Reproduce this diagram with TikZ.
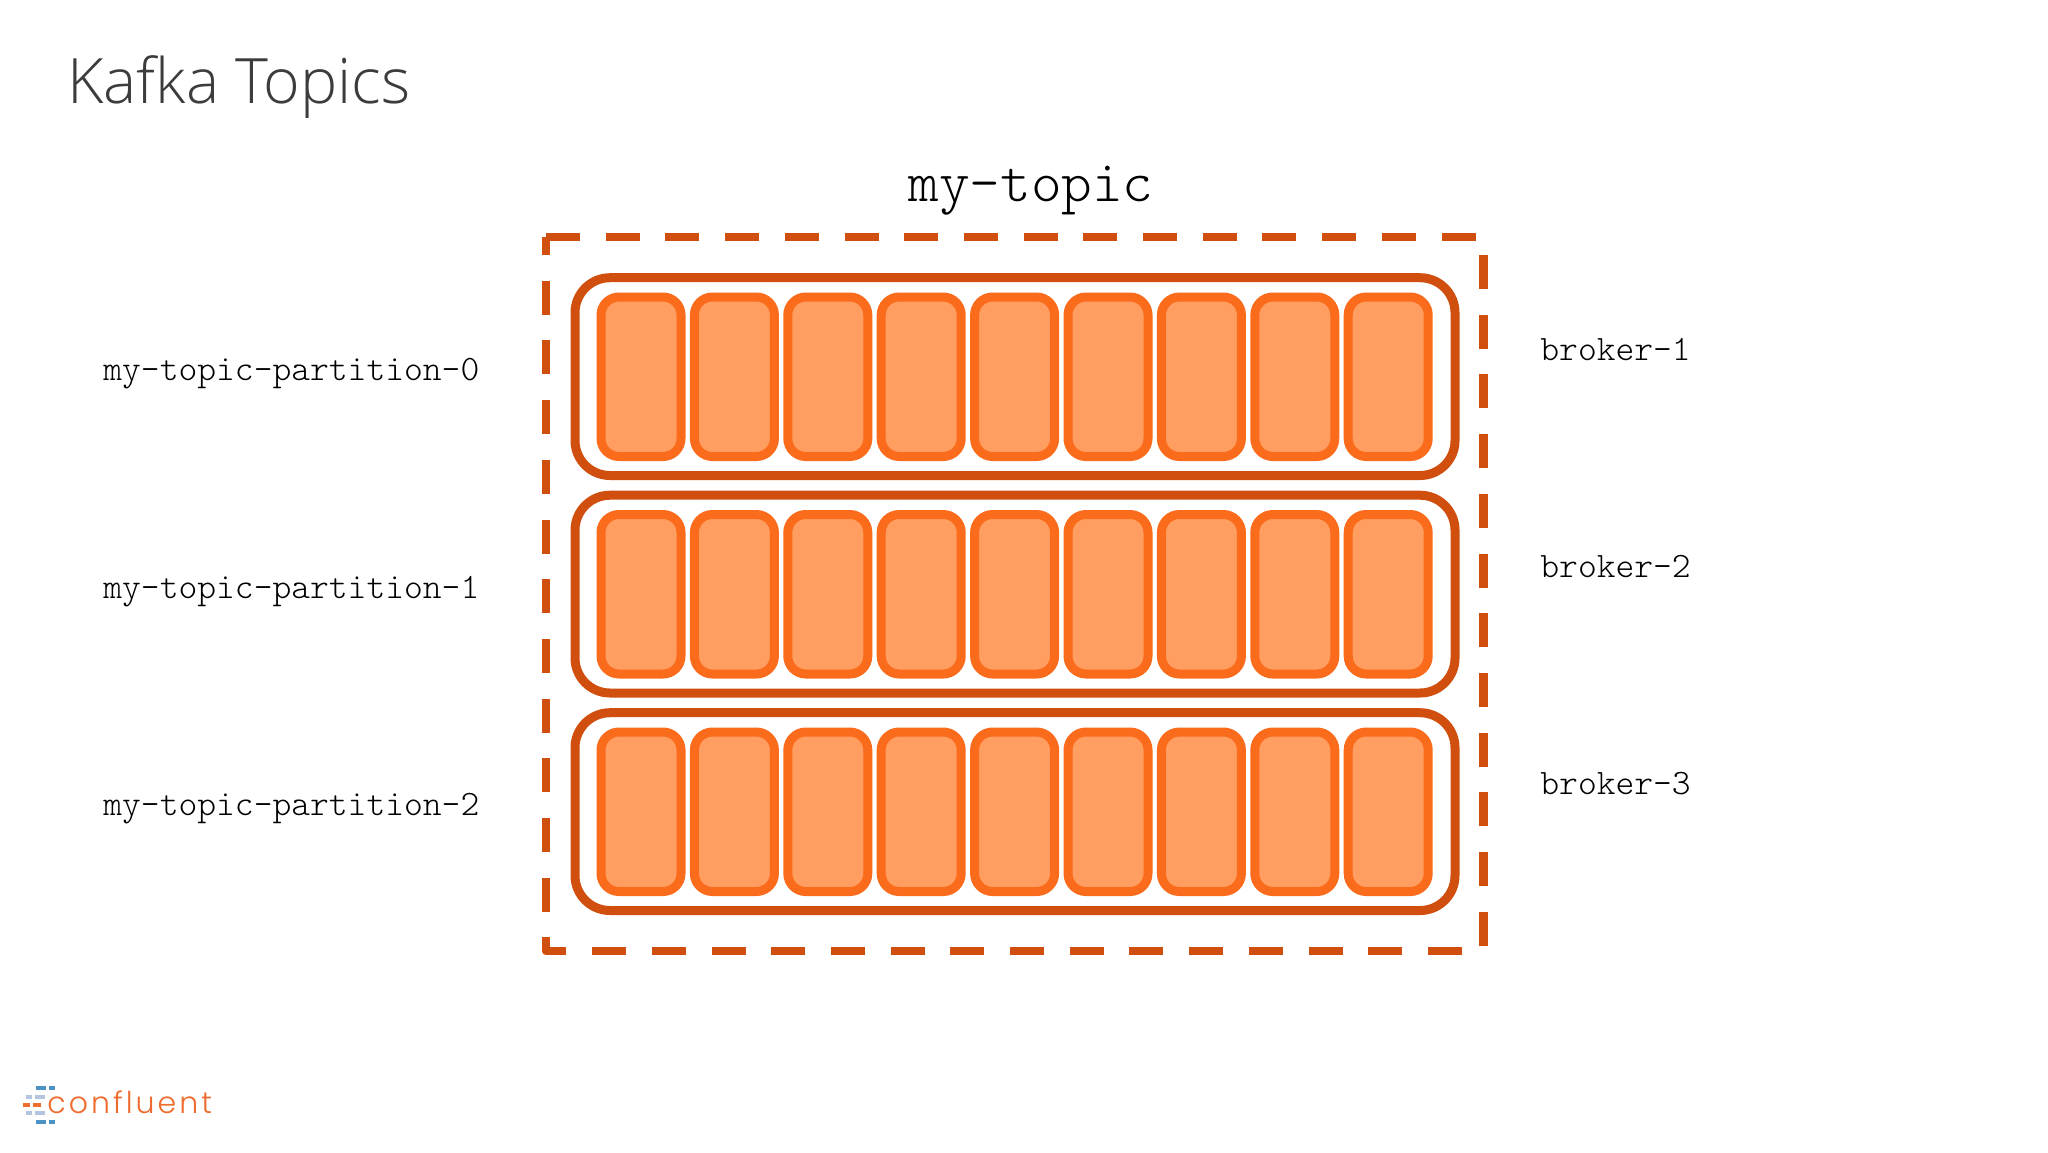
\documentclass[tikz,border=0pt]{standalone}
\usepackage{fontspec}
\setmainfont{Liberation Sans}
\setmonofont{Latin Modern Mono Light}
\newfontfamily\titlefont[Ligatures=NoCommon]{Open Sans Light}
\newfontfamily\logofont[LetterSpace=10.0]{Poppins Light}
\definecolor{dashc}{HTML}{D04E0E}
\definecolor{cellline}{HTML}{FA6B1B}
\definecolor{cellfill}{HTML}{FF9E60}
\definecolor{titlec}{HTML}{3C3C3C}
\definecolor{logoc}{HTML}{EE6C2F}
\definecolor{logob}{HTML}{4A93C4}
\definecolor{logol}{HTML}{B4C6DE}
\tikzset{
  x=0.5pt,y=-0.5pt,
  topicside/.style={draw=dashc,line width=4.25pt,line join=round},
  partbox/.style={draw=dashc,line width=4.5pt,rounded corners=17.5pt},
  cellbox/.style={draw=cellline,fill=cellfill,line width=4.5pt,rounded corners=9pt},
  monolabel/.style={font=\fontsize{17.9}{17.9}\ttfamily\selectfont,text=black,anchor=west,inner sep=0pt},
  logodash/.style={line width=1.6pt},
}
\begin{document}
\begin{tikzpicture}
\useasboundingbox (0,0) rectangle (2048,1152);
\fill[white] (0,0) rectangle (2048,1152);
\node[font=\fontsize{31.3}{31.3}\titlefont,text=titlec,anchor=base west,inner sep=0pt] (title) at (67,103) {Kafka Topics};
\node[font=\fontsize{29.2}{29.2}\ttfamily\selectfont,text=black,anchor=center,inner sep=0pt] (topic) at (1031,191) {my-topic};
% dashed topic border
\coordinate (tl) at (546,237);
\coordinate (tr) at (1483.5,237);
\coordinate (bl) at (546,951);
\coordinate (br) at (1483.5,951);
\draw[topicside,dash pattern=on 17pt off 12.85pt] (tl) -- (tr);
\draw[topicside,dash pattern=on 17pt off 12.85pt,dash phase=8pt] (tl) -- (bl) -- (br);
\draw[topicside,dash pattern=on 17pt off 12.85pt,dash phase=20.85pt] (tr) -- (br);
% partitions
\foreach \r/\py/\lab/\br/\pl/\bl in {0/0/0/1/374/349,1/217.5/1/2/591.5/566.5,2/435/2/3/809/784}{
  \draw[partbox] (575,277.7+\py) rectangle (1455,475.5+\py);
  \foreach \c in {0,...,8}{
    \draw[cellbox] (601+\c*93.4,297+\py) rectangle (681+\c*93.4,456.5+\py);
  }
  \node[monolabel] (p\r) at (103,\pl) {my-topic-partition-\lab};
  \node[monolabel] (b\r) at (1540,\bl) {broker-\br};
}
% logo
\node[font=\fontsize{15}{15}\logofont,text=logoc,anchor=base west,inner sep=0pt] (logo) at (47,1113) {confluent};
\foreach \ya/\xa/\xb/\xc/\xd/\col in {1088/36/46/49/55/logob,1097/26/32/35/45/logol,1105/23/30/33/41/logoc,1113/26/32/35/45/logol,1122/36/46/49/55/logob}{
  \draw[logodash,\col] (\xa,\ya) -- (\xb,\ya);
  \draw[logodash,\col] (\xc,\ya) -- (\xd,\ya);
}
\end{tikzpicture}
\end{document}
